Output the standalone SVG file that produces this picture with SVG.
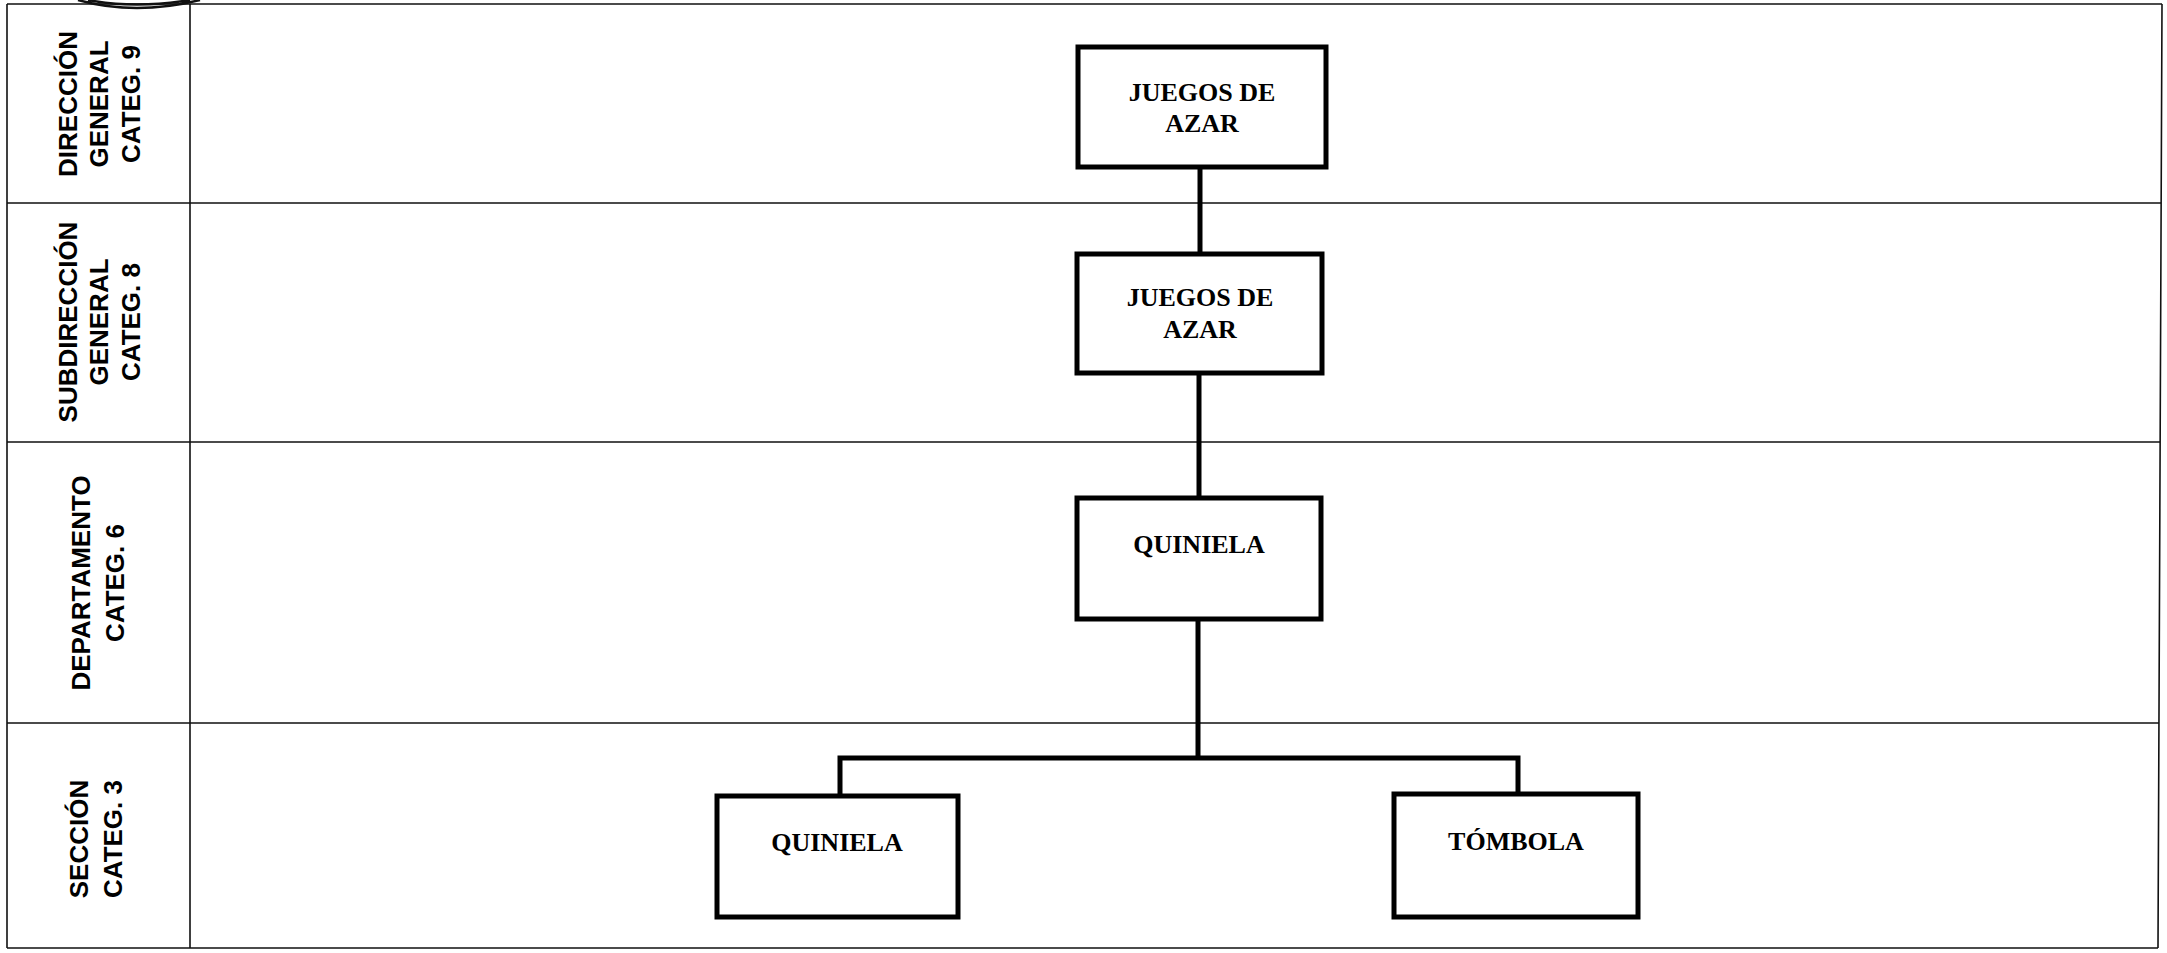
<svg xmlns="http://www.w3.org/2000/svg" width="2167" height="953" viewBox="0 0 2167 953">
<style>
.grid{fill:none;stroke:#111;stroke-width:1.6}
.box{fill:#fff;stroke:#000;stroke-width:5}
.conn{fill:none;stroke:#000;stroke-width:5;stroke-linejoin:miter}
.nt{font-family:"Liberation Serif","Times New Roman",serif;font-weight:bold;font-size:26px;fill:#000;text-anchor:middle}
.lt{font-family:"Liberation Sans",Arial,sans-serif;font-weight:bold;font-size:26px;fill:#000;text-anchor:middle}
.stamp{fill:none;stroke:#111;stroke-width:2.5}
</style>
<rect width="2167" height="953" fill="#fff"/>
<g id="grid">
<path class="grid" d="M7,4 H2162 M7,203 H2161 M7,442 H2160 M7,723 H2159 M7,948 H2158 M7,4 V948 M190,4 V948 M2162,4 L2158,948"/>
<path class="stamp" d="M78,0 Q135,16 200,0 M88,0 Q135,9 190,0"/>
</g>
<g id="lane-labels">
<text class="lt" transform="translate(77,104) rotate(-90)">DIRECCIÓN</text>
<text class="lt" transform="translate(108,104) rotate(-90)">GENERAL</text>
<text class="lt" transform="translate(140,104) rotate(-90)">CATEG. 9</text>
<text class="lt" transform="translate(77,322) rotate(-90)">SUBDIRECCIÓN</text>
<text class="lt" transform="translate(108,322) rotate(-90)">GENERAL</text>
<text class="lt" transform="translate(140,322) rotate(-90)">CATEG. 8</text>
<text class="lt" transform="translate(90,583) rotate(-90)">DEPARTAMENTO</text>
<text class="lt" transform="translate(124,583) rotate(-90)">CATEG. 6</text>
<text class="lt" transform="translate(88,839) rotate(-90)">SECCIÓN</text>
<text class="lt" transform="translate(122,839) rotate(-90)">CATEG. 3</text>
</g>
<g id="connectors">
<path class="conn" d="M1200,167 V253"/>
<path class="conn" d="M1199,373 V497"/>
<path class="conn" d="M1198,619 V758"/>
<path class="conn" d="M840,796 V758 H1518 V794"/>
</g>
<g id="node-dg">
<rect class="box" x="1078" y="47" width="248" height="120"/>
<text class="nt" x="1202" y="101">JUEGOS DE</text>
<text class="nt" x="1202" y="132">AZAR</text>
</g>
<g id="node-sg">
<rect class="box" x="1077" y="254" width="245" height="119"/>
<text class="nt" x="1200" y="306">JUEGOS DE</text>
<text class="nt" x="1200" y="338">AZAR</text>
</g>
<g id="node-dep">
<rect class="box" x="1077" y="498" width="244" height="121"/>
<text class="nt" x="1199" y="553">QUINIELA</text>
</g>
<g id="node-sec-quiniela">
<rect class="box" x="717" y="796" width="241" height="121"/>
<text class="nt" x="837" y="851">QUINIELA</text>
</g>
<g id="node-sec-tombola">
<rect class="box" x="1394" y="794" width="244" height="123"/>
<text class="nt" x="1516" y="850">TÓMBOLA</text>
</g>
</svg>
